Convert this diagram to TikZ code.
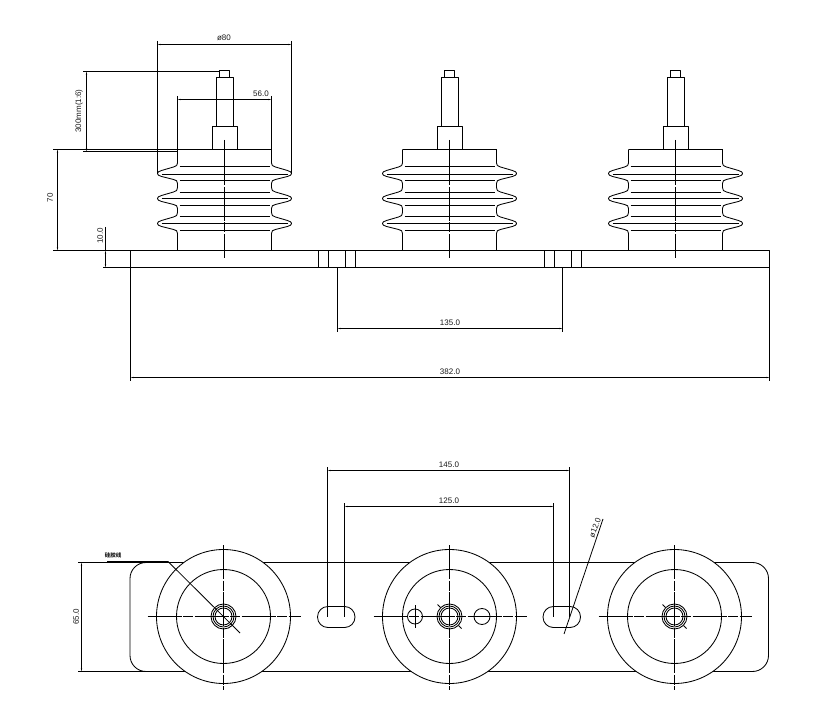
\documentclass[tikz,border=0pt]{standalone}
\usepackage{fontspec}
\setmainfont{Liberation Sans}
\newfontfamily\cjk{Noto Sans CJK SC}
\usetikzlibrary{arrows.meta}
\tikzset{
    part/.style={line width=0.85pt, line join=round},
    dim/.style={line width=0.8pt, {Stealth[length=3pt,width=1.2pt]}-{Stealth[length=3pt,width=1.2pt]}},
    ext/.style={line width=0.8pt},
    axis/.style={line width=0.8pt, dash pattern=on 34pt off 1.5pt on 10pt off 1.5pt},
    label/.style={font=\fontsize{8}{8}\selectfont, inner sep=0pt, text=black!90}
}
\begin{document}
\begin{tikzpicture}[x=1pt,y=-1pt]
    \useasboundingbox (0,0) rectangle (828,703);

    % front view
    \draw[part] (130.5,250.5) rectangle (769.5,267.5);
    \foreach \x in {318.5,328.5,345.5,355.5,544.5,554.5,571.5,581.5}
    {
        \draw[part] (\x,250.5) -- (\x,267.5);
    }
    \foreach[count=\i] \c in {224.5,449.5,675.5}
    {
        \begin{scope}[shift={(\c,0)}]
            \draw[part] (-5,77) rectangle (5,70.5);
            \draw[part] (-8.5,126.5) rectangle (8.5,77);
            \draw[part] (-12.5,149.5) rectangle (12.5,126.5);
            \draw[part] (-47,149.5) -- (47,149.5);
            \foreach \s in {-1,1}
            {
                \begin{scope}[xscale=\s]
                    \draw[part] (47,149.5) -- (47,163)
                        .. controls (47,165.5) and (48,166) .. (51,167) -- (63,170.5)
                        .. controls (68.5,172) and (68.5,175) .. (63,176.5) -- (51,179.5)
                        .. controls (48,180) and (47,181) .. (47,183.5) -- (47,187.5)
                        .. controls (47,190.5) and (48,191) .. (51,192) -- (63,195.5)
                        .. controls (68.5,197) and (68.5,200) .. (63,201.5) -- (51,204.5)
                        .. controls (48,205) and (47,206) .. (47,208.5) -- (47,212.5)
                        .. controls (47,215.5) and (48,216) .. (51,217) -- (63,220.5)
                        .. controls (68.5,222) and (68.5,225) .. (63,226.5) -- (51,229.5)
                        .. controls (48,230) and (47,231) .. (47,233.5) -- (47,250.5);
                \end{scope}
            }
            \foreach \y in {166.5,180.5,192.5,205.5,216.5,230.5}
            {
                \draw[part] (-45,\y) -- (45,\y);
            }
            \foreach \y in {174.5,198.5,223.5}
            {
                \draw[part] (-63,\y) -- (63,\y);
            }
            \draw[axis] (0,140) -- (0,258);
        \end{scope}
    }

    % front view dimensions
    \draw[ext] (157.5,41) -- (157.5,173) (291.5,41) -- (291.5,173);
    \draw[dim] (157.5,44.5) -- (291.5,44.5);
    \node[label] (d80) at (224,38) {ø80};
    \draw[ext] (83,71.5) -- (220,71.5) (83,151.5) -- (177.5,151.5);
    \draw[dim] (86.5,71.5) -- (86.5,151.5);
    \node[label, rotate=90] (d300) at (79,111) {300mm(1:6)};
    \draw[ext] (177.5,96) -- (177.5,149.5) (271.5,96) -- (271.5,149.5);
    \draw[dim] (177.5,99.5) -- (271.5,99.5);
    \node[label] (d56) at (261,94) {56.0};
    \draw[ext] (53,149.5) -- (177.5,149.5) (53,250.5) -- (130.5,250.5);
    \draw[dim] (57.5,149.5) -- (57.5,250.5);
    \node[label, rotate=90] (d70) at (50,198) {70};
    \draw[ext] (105.5,227) -- (105.5,250.5) (103,267.5) -- (130.5,267.5);
    \draw[dim] (105.5,250.5) -- (105.5,267.5);
    \node[label, rotate=90] (d10) at (100,236) {10.0};
    \draw[ext] (337.5,267.5) -- (337.5,332) (562.5,267.5) -- (562.5,332);
    \draw[dim] (337.5,328.5) -- (562.5,328.5);
    \node[label] (d135) at (450,323) {135.0};
    \draw[ext] (130.5,267.5) -- (130.5,381) (769.5,267.5) -- (769.5,381);
    \draw[dim] (130.5,377.5) -- (769.5,377.5);
    \node[label] (d382) at (450,372) {382.0};

    % plan view
    \draw[part, rounded corners=16pt] (130,562.5) rectangle (768.5,671.5);
    \draw[part, rounded corners=10.4pt] (317.5,606.5) rectangle (355,627.5);
    \draw[part, rounded corners=10.4pt] (543,606.5) rectangle (580.5,627.5);
    \foreach[count=\i] \c in {223.5,449.5,674.5}
    {
        \begin{scope}[shift={(\c,616.5)}]
            \draw[part, fill=white] (0,0) circle (67);
            \draw[part] (0,0) circle (47);
            \foreach \r in {12.5,10.5,8.5}
            {
                \draw[part] (0,0) circle (\r);
            }
            \draw[axis] (-76,0) -- (77,0);
            \draw[axis] (0,-71.5) -- (0,73);
            \ifnum\i>1
                \draw[ext] (-12,-12) -- (-9,-9) (9,9) -- (12,12);
            \fi
        \end{scope}
    }
    \draw[part] (415,616.5) circle (7.5);
    \draw[ext] (415,605) -- (415,628);
    \draw[part] (482,616.5) circle (8);

    % plan view dimensions
    \draw[ext] (78,562.5) -- (157,562.5) (78,671.5) -- (146,671.5);
    \draw[dim] (81.5,562.5) -- (81.5,671.5);
    \node[label, rotate=90] (d65) at (76,617) {65.0};
    \draw[ext] (327.5,467) -- (327.5,616.5) (569.5,467) -- (569.5,616.5);
    \draw[dim] (327.5,470.5) -- (569.5,470.5);
    \node[label] (d145) at (449,465) {145.0};
    \draw[ext] (344.5,503) -- (344.5,616.5) (553.5,503) -- (553.5,616.5);
    \draw[dim] (344.5,506.5) -- (553.5,506.5);
    \node[label] (d125) at (449,501) {125.0};
    \draw[ext] (564,634) -- (603,519);
    \node[label, rotate=70] (d12) at (595,528) {ø12.0};
    \draw[ext] (107,561.5) -- (168,561.5) -- (240,633);
    \node[label, font=\cjk\fontsize{5.5}{6}\selectfont\bfseries] (wire) at (113,555) {硅胶线};
\end{tikzpicture}
\end{document}
